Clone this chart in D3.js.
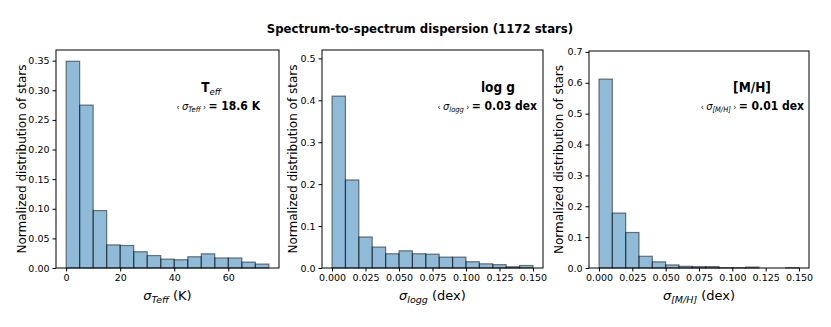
<!DOCTYPE html>
<html><head><meta charset="utf-8">
<script src="https://cdn.jsdelivr.net/npm/d3@7"></script>
<style>body{margin:0;background:#fff}svg{display:block}text{font-family:"DejaVu Sans",sans-serif;fill:#000}
.cond{font-family:"DejaVu Sans Condensed","DejaVu Sans",sans-serif;font-stretch:condensed}</style>
</head><body><svg id="c" width="831" height="327"></svg>
<script>
const chartTitle = "Spectrum-to-spectrum dispersion (1172 stars)";
const yLabel = "Normalized distribution of stars";

const teffBinStart = 0, teffBinWidth = 5;
const teffValues = [0.349,0.275,0.097,0.039,0.038,0.0275,0.021,0.015,0.014,0.019,0.024,0.017,0.017,0.010,0.0067];
const teffXTicks = [0,20,40,60];
const teffYTicks = [0,0.05,0.10,0.15,0.20,0.25,0.30,0.35];

const loggBinStart = 0, loggBinWidth = 0.01;
const loggValues = [0.410,0.210,0.074,0.050,0.034,0.041,0.034,0.033,0.026,0.026,0.015,0.010,0.008,0.003,0.006];
const loggXTicks = [0,0.025,0.05,0.075,0.1,0.125,0.15];
const loggYTicks = [0,0.1,0.2,0.3,0.4,0.5];

const mhBinStart = 0, mhBinWidth = 0.01;
const mhValues = [0.612,0.178,0.115,0.038,0.020,0.010,0.0055,0.0045,0.0045,0.001,0.001,0.003,0,0,0.001];
const mhXTicks = [0,0.025,0.05,0.075,0.1,0.125,0.15];
const mhYTicks = [0,0.1,0.2,0.3,0.4,0.5,0.6,0.7];

const panels = [
  {values: teffValues, start: teffBinStart, w: teffBinWidth, xt: teffXTicks, yt: teffYTicks,
   xdom: [-3.75, 78.75], ydom: [0, 0.368], xf: d3.format("d"), yf: d3.format(".2f"),
   box: [56, 50, 279, 268], ylx: 30, nameX: 211, annX: 260,
   name: "T", nameSub: "eff", sub: "Teff", mean: "18.6 K", unit: "(K)"},
  {values: loggValues, start: loggBinStart, w: loggBinWidth, xt: loggXTicks, yt: loggYTicks,
   xdom: [-0.0075, 0.1575], ydom: [0, 0.52], xf: d3.format(".3f"), yf: d3.format(".1f"),
   box: [322, 50, 543, 268], ylx: 25, nameX: 498, annX: 537,
   name: "log g", nameSub: "", sub: "logg", mean: "0.03 dex", unit: "(dex)"},
  {values: mhValues, start: mhBinStart, w: mhBinWidth, xt: mhXTicks, yt: mhYTicks,
   xdom: [-0.0075, 0.1575], ydom: [0, 0.703], xf: d3.format(".3f"), yf: d3.format(".1f"),
   box: [589, 51, 809, 268], ylx: 26, nameX: 752, annX: 804,
   name: "[M/H]", nameSub: "", sub: "[M/H]", mean: "0.01 dex", unit: "(dex)"}
];

const svg = d3.select("#c");
svg.append("text").attr("class", "cond").attr("x", 420).attr("y", 33).attr("text-anchor", "middle")
  .attr("font-size", 13).attr("font-weight", "bold").text(chartTitle);

panels.forEach(p => {
  const [x0, y0, x1, y1] = p.box;
  const x = d3.scaleLinear().domain(p.xdom).range([x0, x1]);
  const y = d3.scaleLinear().domain(p.ydom).range([y1, y0]);
  const g = svg.append("g");
  const bins = p.values.map((v, i) => ({a: p.start + i * p.w, b: p.start + (i + 1) * p.w, v}));
  g.selectAll("rect.bar").data(bins).join("rect").attr("class", "bar")
    .attr("x", d => x(d.a)).attr("width", d => x(d.b) - x(d.a))
    .attr("y", d => y(d.v)).attr("height", d => y(0) - y(d.v))
    .attr("fill", "rgba(31,119,180,0.5)").attr("stroke", "rgba(0,0,0,0.5)").attr("stroke-width", 1.2);
  g.append("rect").attr("x", x0).attr("y", y0).attr("width", x1 - x0).attr("height", y1 - y0)
    .attr("fill", "none").attr("stroke", "#000").attr("stroke-width", 1);
  const xa = g.append("g").attr("transform", `translate(0,${y1})`)
    .call(d3.axisBottom(x).tickValues(p.xt).tickFormat(p.xf).tickSizeOuter(0).tickSize(3.5).tickPadding(3));
  const ya = g.append("g").attr("transform", `translate(${x0},0)`)
    .call(d3.axisLeft(y).tickValues(p.yt).tickFormat(p.yf).tickSizeOuter(0).tickSize(3.5).tickPadding(3));
  [xa, ya].forEach(a => {
    a.select(".domain").remove();
    a.selectAll("text").attr("font-size", 9.5).attr("font-family", "DejaVu Sans");
    a.selectAll("line").attr("stroke", "#000");
  });
  // y label
  g.append("text").attr("transform", `translate(${x0 - p.ylx},${(y0 + y1) / 2}) rotate(-90)`)
    .attr("text-anchor", "middle").attr("font-size", 12).text(yLabel);
  // x label
  const xl = g.append("text").attr("x", (x0 + x1) / 2).attr("y", 300).attr("text-anchor", "middle").attr("font-size", 13);
  xl.append("tspan").attr("font-style", "italic").text("σ");
  xl.append("tspan").attr("font-style", "italic").attr("font-size", 9.5).attr("dy", 3).text(p.sub);
  xl.append("tspan").attr("dy", -3).text(" " + p.unit);
  // name
  const nm = g.append("text").attr("class", "cond").attr("x", p.nameX).attr("y", 91.5).attr("text-anchor", "middle")
    .attr("font-size", 13.5).attr("font-weight", "bold");
  nm.append("tspan").text(p.name);
  if (p.nameSub) nm.append("tspan").attr("font-weight", "normal").attr("font-style", "italic")
    .attr("font-size", 9.5).attr("dy", 3).text(p.nameSub);
  // mean annotation
  const an = g.append("text").attr("class", "cond").attr("x", p.annX).attr("y", 109.5).attr("text-anchor", "end").attr("font-size", 11);
  an.append("tspan").attr("font-size", 8.5).text("‹ ");
  an.append("tspan").attr("font-style", "italic").attr("font-size", 11).text("σ");
  an.append("tspan").attr("font-style", "italic").attr("font-size", 7.5).attr("dy", 2).text(p.sub);
  an.append("tspan").attr("font-size", 8.5).attr("dy", -2).text(" › ");
  an.append("tspan").attr("font-weight", "bold").attr("font-size", 12).text("= " + p.mean);
});
</script></body></html>
